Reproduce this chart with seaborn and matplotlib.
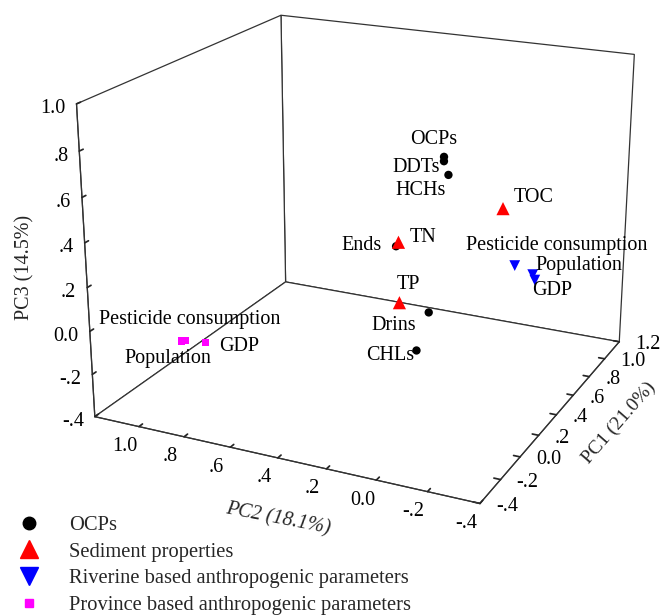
import numpy as np
import matplotlib
matplotlib.use("Agg")
import matplotlib.pyplot as plt
import seaborn as sns
from matplotlib.ticker import FixedLocator, NullFormatter
from matplotlib.lines import Line2D
from mpl_toolkits.mplot3d import proj3d

sns.set_theme(style="white")
plt.rcParams['font.family'] = ['Liberation Serif', 'DejaVu Serif']

# ---------------- data ----------------
ocp_names = ["OCPs", "DDTs", "HCHs", "Ends", "Drins", "CHLs"]
ocp_pc1 = [0.60, 0.60, 0.60, 0.30, 0.30, 0.30]
ocp_pc2 = [0.17, 0.17, 0.15, 0.24, 0.10, 0.15]
ocp_pc3 = [0.62, 0.60, 0.54, 0.30, 0.02, -0.17]

sed_names = ["TOC", "TN", "TP"]
sed_pc1 = [0.90, 0.30, 0.20]
sed_pc2 = [0.03, 0.23, 0.18]
sed_pc3 = [0.30, 0.32, 0.09]

riv_names = ["Pesticide consumption", "Population", "GDP"]
riv_pc1 = [0.95, 0.95, 0.95]
riv_pc2 = [-0.01, -0.09, -0.10]
riv_pc3 = [0.01, -0.02, -0.045]

prov_names = ["Pesticide consumption", "Population", "GDP"]
prov_pc1 = [-0.30, -0.30, -0.30]
prov_pc2 = [0.855, 0.84, 0.75]
prov_pc3 = [-0.015, -0.01, 0.00]

group_labels = ["OCPs", "Sediment properties",
                "Riverine based anthropogenic parameters",
                "Province based anthropogenic parameters"]

pc1_lim = (-0.4, 1.2)
pc2_lim = (-0.4, 1.2)
pc3_lim = (-0.4, 1.0)
pc1_ticks = [-0.4, -0.2, 0.0, 0.2, 0.4, 0.6, 0.8, 1.0, 1.2]
pc2_ticks = [-0.4, -0.2, 0.0, 0.2, 0.4, 0.6, 0.8, 1.0]
pc3_ticks = [-0.4, -0.2, 0.0, 0.2, 0.4, 0.6, 0.8, 1.0]

# ---------------- figure ----------------
W, H = 662, 615
fig = plt.figure(figsize=(W / 100, H / 100), dpi=100)
ax = fig.add_axes([0.0465, 0.1499, 1.0, 0.92], projection='3d')
ax.set_proj_type('persp', focal_length=0.58)
ax.view_init(elev=20, azim=-154.5)
ax.set_box_aspect((1.25, 1.28, 1.0), zoom=1.12)

ax.set_xlim(*pc1_lim)
ax.set_ylim(*pc2_lim)
ax.set_zlim(*pc3_lim)

def fmt(v):
    s = f"{v:.1f}"
    if s in ("0.0", "-0.0"):
        return "0.0"
    if s.startswith("0."):
        return s[1:]
    if s.startswith("-0."):
        return "-" + s[2:]
    return s

for axis, ticks in ((ax.xaxis, pc1_ticks), (ax.yaxis, pc2_ticks), (ax.zaxis, pc3_ticks)):
    axis.set_major_locator(FixedLocator(ticks))
    axis.set_major_formatter(NullFormatter())
    axis.set_pane_color((1, 1, 1, 1))
    axis.pane.set_closed(True)
    axis.pane.set_edgecolor('#333333')
    axis.pane.set_linewidth(0.9)
    axis.line.set_color('#333333')
    axis.line.set_linewidth(0.9)
    axis._axinfo['tick']['inward_factor'] = 0.0
    axis._axinfo['tick']['outward_factor'] = 0.2
    axis._axinfo['tick']['color'] = '#333333'

ax.grid(False)
ax.zaxis.set_ticks_position('upper')

# ---------------- points ----------------
def add(pc1, pc2, pc3, marker, color, s):
    ax.scatter(pc1, pc2, pc3, marker=marker, c=color, s=s,
               depthshade=False, edgecolors='none', alpha=1)

add(ocp_pc1, ocp_pc2, ocp_pc3, 'o', 'black', 36)
add(sed_pc1, sed_pc2, sed_pc3, '^', 'red', 90)
add(riv_pc1, riv_pc2, riv_pc3, 'v', 'blue', 60)
add(prov_pc1, prov_pc2, prov_pc3, 's', 'magenta', 26)

fig.canvas.draw()
M = ax.get_proj()

def put(text, x, y, z, dx, dy, ha='center', size=14.5):
    px, py, _ = proj3d.proj_transform(x, y, z, M)
    ax.annotate(text, xy=(px, py), xytext=(dx * 0.72, -dy * 0.72),
                textcoords='offset points', ha=ha, va='center',
                fontsize=size, color='black', annotation_clip=False)

# tick labels (offsets in pixels: dx right, dy down)
for t in pc1_ticks:
    put(fmt(t), t, pc2_lim[0], pc3_lim[0], 16, 3, ha='left')
for t in pc2_ticks:
    put(fmt(t), pc1_lim[0], t, pc3_lim[0], -14, 20)
for t in pc3_ticks:
    put(fmt(t), pc1_lim[0], pc2_lim[1], t, -11, 5, ha='right')

# point labels
ocp_off = [(-10, -17), (-28, 6), (-28, 16), (-35, -1), (-35, 13), (-26, 5)]
sed_off = [(31, -11), (25, -5), (9, -18)]
riv_off = [(42, -20), (46, -9), (17, 10)]
prov_off = [(8, -21), (-17, 18), (33, 4)]
for names, xs, ys, zs, offs in ((ocp_names, ocp_pc1, ocp_pc2, ocp_pc3, ocp_off),
                                (sed_names, sed_pc1, sed_pc2, sed_pc3, sed_off),
                                (riv_names, riv_pc1, riv_pc2, riv_pc3, riv_off),
                                (prov_names, prov_pc1, prov_pc2, prov_pc3, prov_off)):
    for n, x, y, z, (dx, dy) in zip(names, xs, ys, zs, offs):
        put(n, x, y, z, dx, dy)

# axis titles
fig.text(25 / W, 1 - 267 / H, "PC3 (14.5%)", rotation=90, ha='center', va='center', fontsize=14.5)
fig.text(278 / W, 1 - 519 / H, "PC2 (18.1%)", rotation=-11, ha='center', va='center',
         fontsize=14.5, style='italic')
fig.text(619 / W, 1 - 423 / H, "PC1 (21.0%)", rotation=49, ha='center', va='center', fontsize=14)

# legend
handles = [
    Line2D([], [], ls='none', marker='o', color='black', markersize=9),
    Line2D([], [], ls='none', marker='^', color='red', markersize=13),
    Line2D([], [], ls='none', marker='v', color='blue', markersize=13),
    Line2D([], [], ls='none', marker='s', color='magenta', markersize=6),
]
fig.legend(handles, group_labels, loc='upper left', bbox_to_anchor=(-5 / W, 1 - 497 / H),
           frameon=False, fontsize=14.8, handlelength=1.5, handletextpad=1.2,
           labelspacing=0.36, borderpad=0.4)

fig.savefig("out.png", dpi=100)
